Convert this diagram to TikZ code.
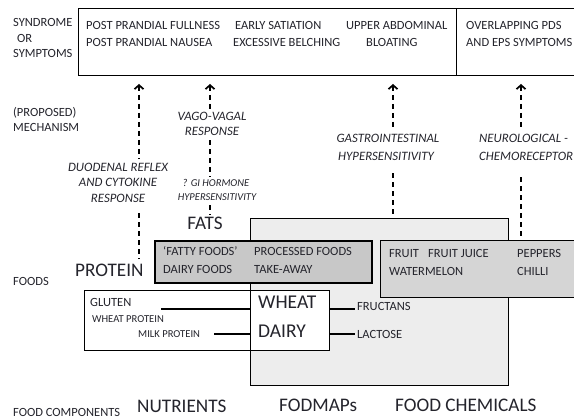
\documentclass[tikz,border=0pt]{standalone}
\usepackage{fontspec}
\setmainfont{Carlito}
\usetikzlibrary{arrows.meta}
\definecolor{txt}{HTML}{24242C}
\definecolor{fodfill}{HTML}{EDEDED}
\definecolor{fatfill}{HTML}{C8C8C8}
\definecolor{chemfill}{HTML}{D5D5D5}
\tikzset{
  lab/.style={font=\fontsize{12.5}{14}\selectfont, text=txt, inner sep=0pt, anchor=base west},
  smalllab/.style={lab, font=\fontsize{10.6}{12}\selectfont},
  biglab/.style={lab, font=\fontsize{19.2}{22}\selectfont},
  wdlab/.style={lab, font=\fontsize{19.5}{22}\selectfont},
  mechlab/.style={lab, anchor=base, font=\itshape\fontsize{12.8}{14}\selectfont},
  tinylab/.style={lab, anchor=base, font=\itshape\fontsize{10.5}{11}\selectfont},
  boxed/.style={draw=black, line width=1.3pt, anchor=north west, inner sep=0pt},
  conn/.style={line width=1.4pt, black},
  dsh/.style={line width=1.7pt, dash pattern=on 5pt off 4pt, black},
  arr/.style={dsh, {Straight Barb[length=4pt,width=9pt,line width=1.7pt]}-},
}
\begin{document}
\begin{tikzpicture}[x=1pt,y=-1pt]
\useasboundingbox (0,0) rectangle (574,419);
\fill[white] (0,0) rectangle (574,419);

% boxes
\node[boxed, minimum width=378pt, minimum height=67pt] (symA) at (78,8) {};
\node[boxed, minimum width=160pt, minimum height=67pt] (symB) at (456,8) {};
\node[boxed, fill=fodfill, minimum width=258pt, minimum height=167pt] (fodbox) at (250,218) {};
\node[boxed, fill=fatfill, line width=1.9pt, minimum width=217pt, minimum height=42pt] (fatbox) at (154,240) {};
\node[boxed, fill=chemfill, minimum width=230pt, minimum height=57pt] (chembox) at (380,240) {};
\node[boxed, fill=white, minimum width=166pt, minimum height=60pt] (protbox) at (84,290) {};
\node[boxed, fill=white, minimum width=79pt, minimum height=60pt] (wdbox) at (250,290) {};

% row labels
\node[lab] (syn1) at (13,27) {SYNDROME};
\node[lab] (syn2) at (17,43) {OR};
\node[lab] (syn3) at (13,58) {SYMPTOMS};
\node[lab] (mech1) at (13,117) {(PROPOSED)};
\node[lab] (mech2) at (13,132) {MECHANISM};
\node[lab] (foods) at (13,286) {FOODS};
\node[lab] (fcomp) at (13,417) {FOOD COMPONENTS};

% symptoms
\node[lab] (s1) at (86,30) {POST PRANDIAL FULLNESS};
\node[lab] (s2) at (86,47) {POST PRANDIAL NAUSEA};
\node[lab] (s3) at (235,30) {EARLY SATIATION};
\node[lab] (s4) at (233,47) {EXCESSIVE BELCHING};
\node[lab] (s5) at (346,30) {UPPER ABDOMINAL};
\node[lab] (s6) at (366,47) {BLOATING};
\node[lab] (s7) at (466,30) {OVERLAPPING PDS};
\node[lab] (s8) at (466,47) {AND EPS SYMPTOMS};

% mechanisms
\node[mechlab] (vago1) at (212,121) {VAGO-VAGAL};
\node[mechlab] (vago2) at (212,136) {RESPONSE};
\node[mechlab] (duo1) at (118,172) {DUODENAL REFLEX};
\node[mechlab] (duo2) at (118,187) {AND CYTOKINE};
\node[mechlab] (duo3) at (118,203) {RESPONSE};
\node[tinylab] (gih1) at (216,187) {? GI HORMONE};
\node[tinylab] (gih2) at (217,201) {HYPERSENSITIVITY};
\node[mechlab] (gas1) at (388,143) {GASTROINTESTINAL};
\node[mechlab] (gas2) at (386,161) {HYPERSENSITIVITY};
\node[mechlab, anchor=base west] (neu1) at (479,143) {NEUROLOGICAL -};
\node[mechlab, anchor=base west] (neu2) at (479,161) {CHEMORECEPTOR};

% foods
\node[biglab, anchor=base] (fats) at (205,230) {FATS};
\node[biglab] (protein) at (75,277) {PROTEIN};
\node[lab] (f1) at (163,256) {`FATTY FOODS'};
\node[lab] (f2) at (163,274) {DAIRY FOODS};
\node[lab] (f3) at (254,256) {PROCESSED FOODS};
\node[lab] (f4) at (254,274) {TAKE-AWAY};
\node[lab] (c1) at (389,258) {FRUIT};
\node[lab] (c2) at (428,258) {FRUIT JUICE};
\node[lab] (c3) at (389,276) {WATERMELON};
\node[lab] (c4) at (517,258) {PEPPERS};
\node[lab] (c5) at (517,276) {CHILLI};
\node[lab] (gluten) at (90,307) {GLUTEN};
\node[smalllab] (wprot) at (92,323) {WHEAT PROTEIN};
\node[smalllab] (mprot) at (138,338) {MILK PROTEIN};
\node[wdlab] (wheat) at (258,309) {WHEAT};
\node[wdlab] (dairy) at (258,338) {DAIRY};
\node[lab] (fruct) at (357,311) {FRUCTANS};
\node[lab] (lact) at (357,339) {LACTOSE};

% components
\node[biglab] (nutr) at (137,413) {NUTRIENTS};
\node[biglab] (fodm) at (279,412) {FODMAPs};
\node[biglab] (fchem) at (395,412) {FOOD CHEMICALS};

% connectors inside food boxes
\coordinate (gl) at (161,309);
\coordinate (ml) at (214,334);
\draw[conn] (gl) -- (gl -| wdbox.west);
\draw[conn] (ml) -- (ml -| wdbox.west);
\draw[conn] (wdbox.east |- gl) -- ([xshift=-2pt]fruct.west |- gl);
\draw[conn] (wdbox.east |- ml) -- ([xshift=-2pt]lact.west |- ml);

% mechanism arrows
\coordinate (t1) at (139,84);
\coordinate (t2) at (210,84);
\coordinate (t3) at (393,84);
\coordinate (t4) at (521,84);
\draw[arr] (t1) -- ([yshift=4pt]t1 |- duo1.north);
\draw[dsh] ([yshift=-10pt]t1 |- duo3.south) -- ([yshift=5pt]t1 |- protein.north);
\draw[arr] (t2) -- ([yshift=3pt]t2 |- vago1.north);
\draw[dsh] ([yshift=-4pt]t2 |- vago2.south) -- ([yshift=3pt]t2 |- gih1.north);
\draw[dsh] ([yshift=-4pt]t2 |- gih2.south) -- ([yshift=3pt]t2 |- fats.north);
\draw[arr] (t3) -- ([yshift=6pt]t3 |- gas1.north);
\draw[dsh] ([yshift=-12pt]t3 |- gas2.south) -- (t3 |- fodbox.north);
\draw[arr] (t4) -- ([yshift=6pt]t4 |- neu1.north);
\draw[dsh] ([yshift=-16pt]t4 |- neu2.south) -- (t4 |- chembox.north);
\end{tikzpicture}
\end{document}
